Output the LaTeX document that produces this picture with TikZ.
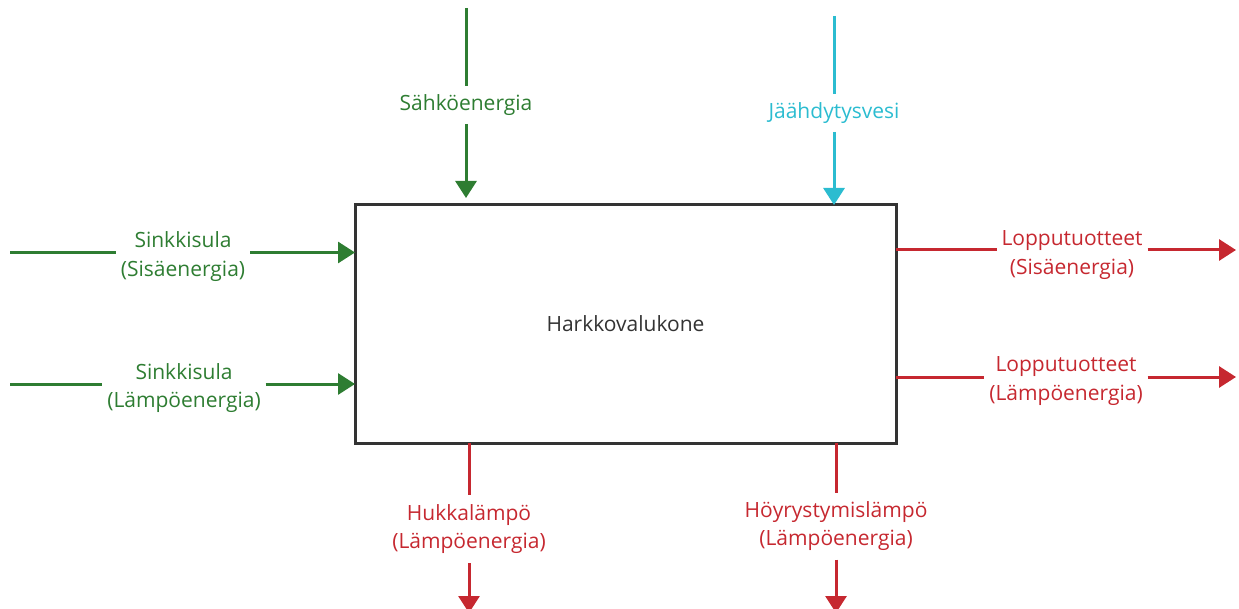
\documentclass[tikz,border=0pt]{standalone}
\usepackage{fontspec}
\setmainfont{Open Sans}
\usetikzlibrary{arrows.meta}
\definecolor{flowgreen}{HTML}{2E7D32}
\definecolor{flowcyan}{HTML}{2BBCD0}
\definecolor{flowred}{HTML}{C62830}
\definecolor{boxgray}{HTML}{333333}
\tikzset{
  labfont/.style={font=\fontsize{21}{28.5}\selectfont},
  unit/.style={draw=boxgray, line width=3pt, fill=white, outer sep=0pt,
    minimum width=541pt, minimum height=238pt, text=boxgray, labfont},
  lab/.style={align=center, inner xsep=5pt, inner ysep=0pt, outer sep=0pt, labfont},
  vlab/.style={lab, minimum height=#1},
  seg/.style={line width=3pt},
  tip/.style={seg, -{Triangle[length=17pt,width=21pt]}},
  gfl/.style={draw=flowgreen, text=flowgreen},
  cfl/.style={draw=flowcyan, text=flowcyan},
  rfl/.style={draw=flowred, text=flowred},
}
\begin{document}
\begin{tikzpicture}[x=1pt,y=-1pt]
\useasboundingbox (0,0) rectangle (1239,609);

% the casting machine
\node[unit] (m) at (625.5,324) {Harkkovalukone};

% inputs from the left
\coordinate (w1) at (10,252.5);
\node[lab, text=flowgreen] (l1) at (183,256.5) {Sinkkisula\\(Sisäenergia)};
\draw[seg, gfl] (w1) -- (w1 -| l1.west);
\draw[tip, gfl] (w1 -| l1.east) -- (w1 -| m.west);

\coordinate (w2) at (10,384);
\node[lab, text=flowgreen] (l2) at (184,388) {Sinkkisula\\(Lämpöenergia)};
\draw[seg, gfl] (w2) -- (w2 -| l2.west);
\draw[tip, gfl] (w2 -| l2.east) -- (w2 -| m.west);

% inputs from above
\coordinate (t1) at (466,8);
\node[vlab=38pt, text=flowgreen] (l5) at (466,105) {Sähköenergia};
\draw[seg, gfl] (t1) -- (l5.north);
\draw[tip, gfl, shorten >=7pt] (l5.south) -- (l5.south |- m.north);

\coordinate (t2) at (834,16);
\node[vlab=38pt, text=flowcyan] (l6) at (834,113) {Jäähdytysvesi};
\draw[seg, cfl] (t2) -- (l6.north);
\draw[tip, cfl] (l6.south) -- (l6.south |- m.north);

% outputs to the right
\coordinate (e1) at (1236,250);
\node[lab, text=flowred] (l3) at (1072,255) {Lopputuotteet\\(Sisäenergia)};
\draw[seg, rfl] (e1 -| m.east) -- (e1 -| l3.west);
\draw[tip, rfl] (e1 -| l3.east) -- (e1);

\coordinate (e2) at (1236,377);
\node[lab, text=flowred] (l4) at (1066,381) {Lopputuotteet\\(Lämpöenergia)};
\draw[seg, rfl] (e2 -| m.east) -- (e2 -| l4.west);
\draw[tip, rfl] (e2 -| l4.east) -- (e2);

% losses downwards
\coordinate (b1) at (469,613);
\node[vlab=68pt, text=flowred] (l7) at (469,529) {Hukkalämpö\\(Lämpöenergia)};
\draw[seg, rfl] (l7.north |- m.south) -- (l7.north);
\draw[tip, rfl] (l7.south) -- (b1);

\coordinate (b2) at (836,613);
\node[vlab=67pt, text=flowred] (l8) at (836,526) {Höyrystymislämpö\\(Lämpöenergia)};
\draw[seg, rfl] (l8.north |- m.south) -- (l8.north);
\draw[tip, rfl] (l8.south) -- (b2);
\end{tikzpicture}
\end{document}
